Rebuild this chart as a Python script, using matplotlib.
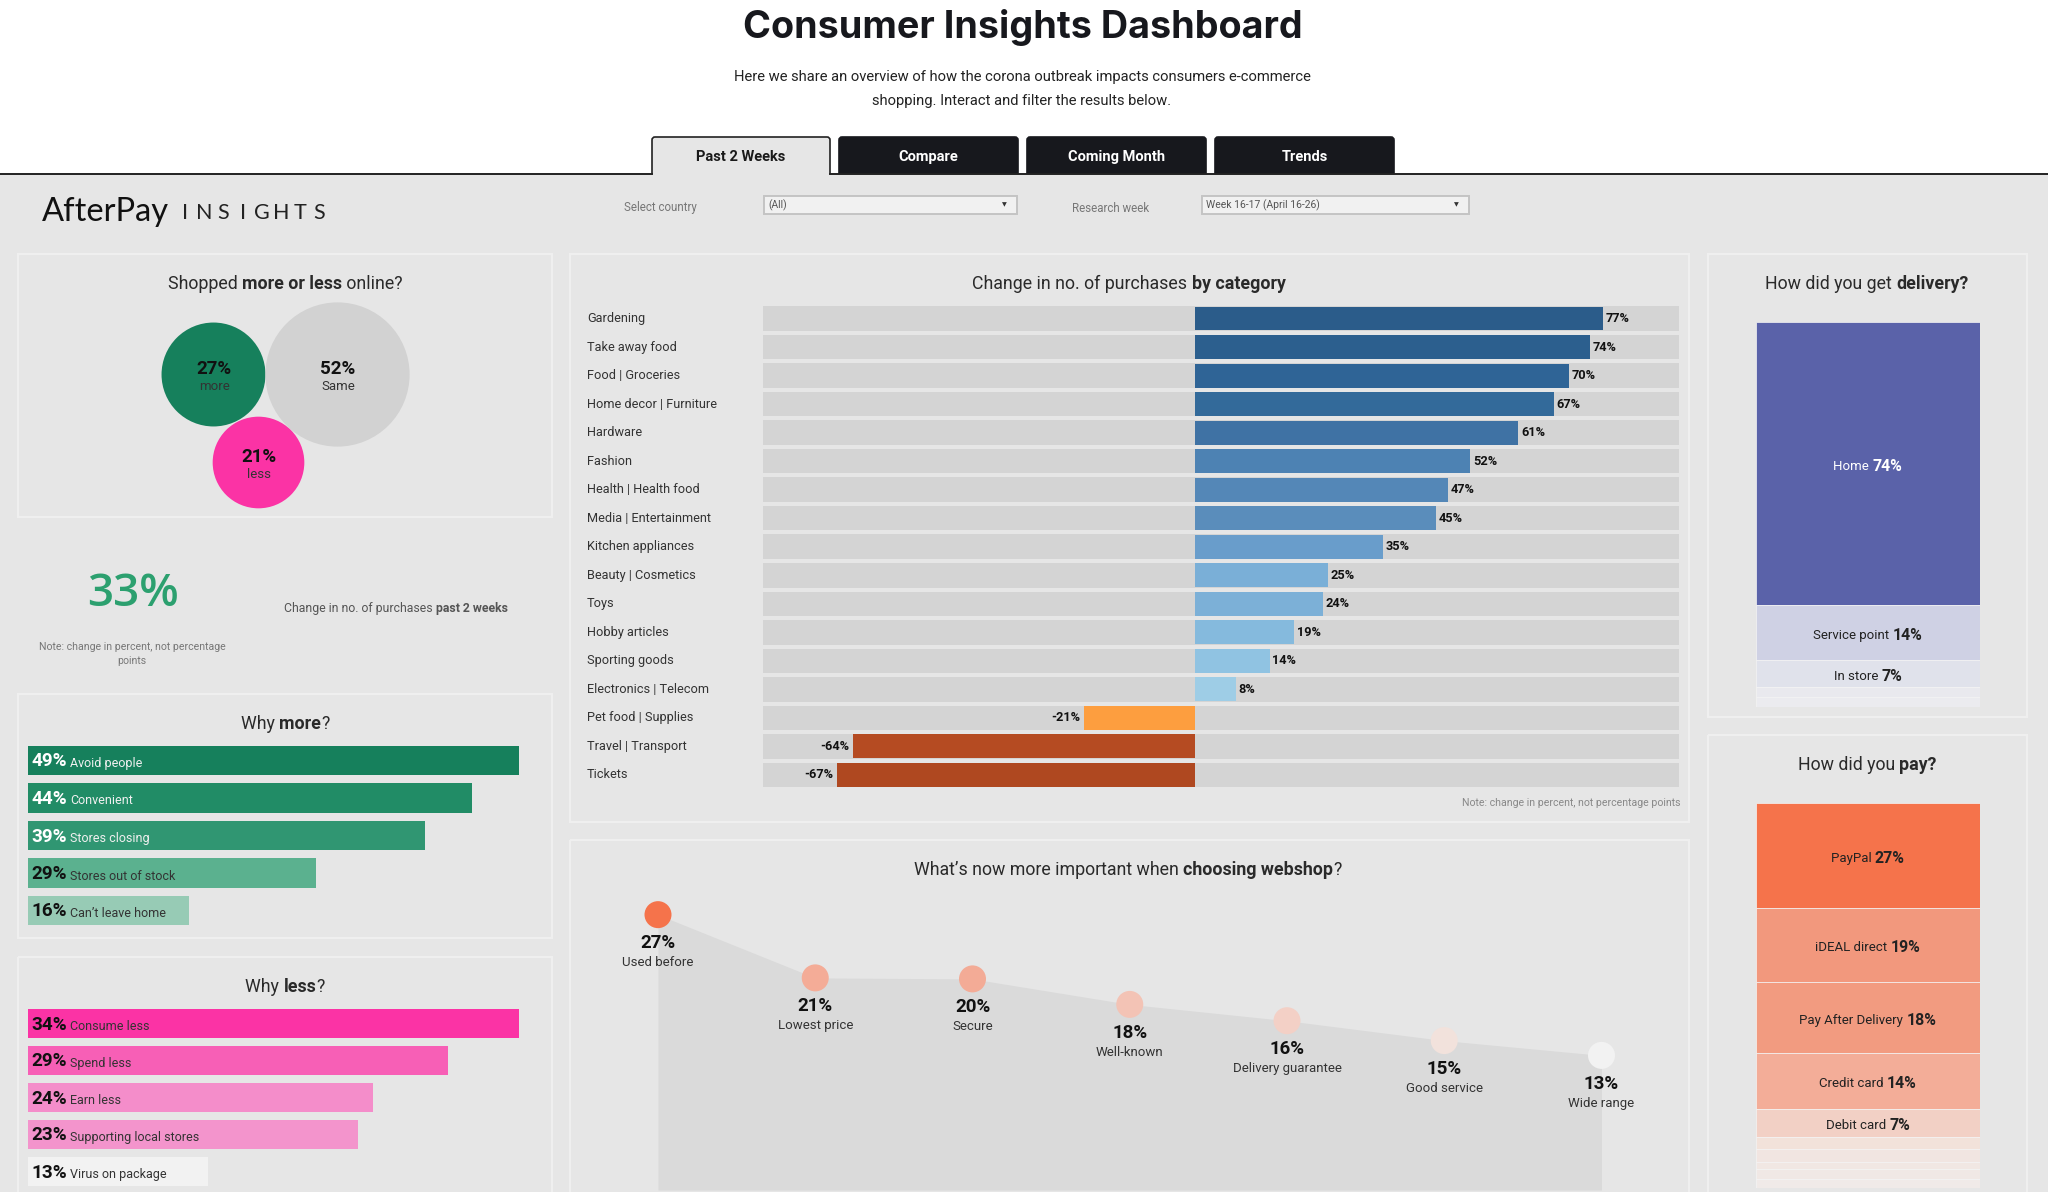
import numpy as np
import matplotlib

matplotlib.use("Agg")
import matplotlib.pyplot as plt
from matplotlib.patches import FancyBboxPatch, Rectangle

W, H = 2048, 1192
FONT = "Roboto"
BG = "#E6E6E6"
BORDER = "#EFEFEF"
INK = "#2A2A2A"

# --- data ---
categories = ["Gardening", "Take away food", "Food | Groceries", "Home decor | Furniture", "Hardware", "Fashion",
              "Health | Health food", "Media | Entertainment", "Kitchen appliances", "Beauty | Cosmetics", "Toys",
              "Hobby articles", "Sporting goods", "Electronics | Telecom", "Pet food | Supplies",
              "Travel | Transport", "Tickets"]
category_values = [77, 74.5, 70.6, 67.7, 61, 52, 47.7, 45.4, 35.4, 25.1, 24.1, 18.7, 14.1, 7.7, -20.9, -64.5, -67.5]
category_labels = ["77%", "74%", "70%", "67%", "61%", "52%", "47%", "45%", "35%", "25%", "24%", "19%", "14%", "8%",
                   "-21%", "-64%", "-67%"]
category_colors = ["#2B5C8A", "#2C5F8E", "#2F6496", "#336A9A", "#3F72A4", "#4D82B3", "#5487B7", "#5A8DBB", "#699DCB",
                   "#7AAFD7", "#7CB0D7", "#85BADD", "#90C3E2", "#9ECDE6", "#FD9E3F", "#B54B22", "#AF4820"]

bubble_values = [27, 52, 21]
bubble_labels = ["more", "Same", "less"]
bubble_colors = ["#16805C", "#D2D2D2", "#FB33A5"]

more_reasons = ["Avoid people", "Convenient", "Stores closing", "Stores out of stock", "Can’t leave home"]
more_values = [49, 44.4, 39.7, 28.8, 16.1]
more_labels = ["49%", "44%", "39%", "29%", "16%"]
more_colors = ["#16805C", "#218C66", "#309672", "#5BB18F", "#97CBB5"]

less_reasons = ["Consume less", "Spend less", "Earn less", "Supporting local stores", "Virus on package"]
less_values = [34, 29.1, 23.9, 22.9, 12.5]
less_labels = ["34%", "29%", "24%", "23%", "13%"]
less_colors = ["#FB33A5", "#F75FB6", "#F48DCA", "#F394CC", "#F2F2F2"]

webshop_reasons = ["Used before", "Lowest price", "Secure", "Well-known", "Delivery guarantee", "Good service",
                   "Wide range"]
webshop_values = [27, 20.8, 20.7, 18.2, 16.6, 14.65, 13.2]
webshop_labels = ["27%", "21%", "20%", "18%", "16%", "15%", "13%"]
webshop_colors = ["#F5734B", "#F4AC97", "#F3AB96", "#F3C3B5", "#F3D0C6", "#F2E2DC", "#F2F2F2"]

delivery_names = ["Home", "Service point", "In store", "", ""]
delivery_values = [74, 14.3, 7, 2.6, 2.6]
delivery_labels = ["74%", "14%", "7%", "", ""]
delivery_colors = ["#5A62A9", "#CFD1E4", "#E0E2EB", "#E9E9EE", "#EBEBEF"]

pay_names = ["PayPal", "iDEAL direct", "Pay After Delivery", "Credit card", "Debit card", "", "", "", "", ""]
pay_values = [27, 19, 18.4, 14.4, 7.2, 3.1, 3.3, 1.9, 2.6, 2.2]
pay_labels = ["27%", "19%", "18%", "14%", "7%", "", "", "", "", ""]
pay_colors = ["#F5734B", "#F2987D", "#F29B80", "#F3AD98", "#F2D0C5", "#F2E2DA", "#F1E5E1", "#F1E7E3", "#F0E8E5",
              "#F0EAE8"]

fig = plt.figure(figsize=(W / 100, H / 100), dpi=100, facecolor="white")
plt.rcParams["font.family"] = [FONT, "DejaVu Sans"]

page = fig.add_axes([0, 0, 1, 1], xlim=(0, W), ylim=(H, 0))
page.axis("off")
page.set_zorder(0)
# second sheet above the charts, all loose text goes here
overlay = fig.add_axes([0, 0, 1, 1], xlim=(0, W), ylim=(H, 0))
overlay.axis("off")
overlay.patch.set_visible(False)
overlay.set_zorder(10)
renderer = fig.canvas.get_renderer()


def chart_axes(x0, y0, x1, y1):
    # box given in page pixels, y measured from the top
    ax = fig.add_axes([x0 / W, 1 - y1 / H, (x1 - x0) / W, (y1 - y0) / H])
    ax.axis("off")
    ax.patch.set_visible(False)
    ax.set_zorder(5)
    return ax


def to_page(ax, x, y):
    px, py = ax.transData.transform((x, y))
    return px, H - py


def rich(x, y, parts, size, color=INK, bold_scale=1.0):
    # parts is a list of (text, bold); runs of text set side by side, centred on x
    items = []
    total = 0.0
    for text, bold in parts:
        t = overlay.text(0, y, text, fontsize=size * bold_scale if bold else size,
                         fontweight="bold" if bold else "normal", color=color, va="center_baseline", ha="left")
        width = t.get_window_extent(renderer).width
        items.append((t, width))
        total += width
    cur = x - total / 2
    for t, width in items:
        t.set_x(cur)
        cur += width


def panel(x0, y0, x1, y1):
    page.add_patch(Rectangle((x0, y0), x1 - x0, y1 - y0, fc="none", ec=BORDER, lw=1.6, zorder=2))


def tab(x0, x1, label, active=False):
    fc = BG if active else "#17181D"
    ec = "#222222" if active else "#17181D"
    page.add_patch(FancyBboxPatch((x0 + 3, 140), x1 - x0 - 6, 50, boxstyle="round,pad=3", fc=fc, ec=ec, lw=1.2,
                                  zorder=1))
    overlay.text((x0 + x1) / 2, 157, label, ha="center", va="center", fontsize=10.5, fontweight="bold",
                 color="#1A1A1A" if active else "white")


def dropdown(x0, x1, text):
    page.add_patch(Rectangle((x0, 196), x1 - x0, 18, fc="#F1F1F1", ec="#C4C4C4", lw=1.4, zorder=3))
    overlay.text(x0 + 4, 205.5, text, fontsize=7.5, color="#555555", va="center")
    overlay.text(x1 - 13, 204.5, "▼", fontsize=4.5, color="#333333", va="center", ha="center", family="DejaVu Sans")


def hbars(box, names, values, labels, colors, dark_from):
    ax = chart_axes(*box)
    ypos = np.arange(len(values))
    ax.barh(ypos, values, height=0.79, color=colors)
    ax.set_xlim(0, max(values))
    ax.set_ylim(len(values) - 0.5, -0.5)
    for i, (name, label) in enumerate(zip(names, labels)):
        px, py = to_page(ax, 0, i)
        col = "white" if i < dark_from else "#111111"
        sub = "#F0F0F0" if i < dark_from else "#333333"
        overlay.text(px + 3.5, py + 1, label, fontsize=13.6, fontweight="bold", color=col, va="center")
        overlay.text(px + 42, py + 3, name, fontsize=9, color=sub, va="center")


def stacked(box, names, values, labels, colors, text_colors):
    ax = chart_axes(*box)
    bottoms = np.concatenate([[0], np.cumsum(values)[:-1]])
    ax.bar(np.zeros(len(values)), values, bottom=bottoms, width=1, color=colors, edgecolor="#F4F4F4", linewidth=0.5)
    ax.set_xlim(-0.5, 0.5)
    ax.set_ylim(sum(values), 0)
    for name, label, value, low, col in zip(names, labels, values, bottoms, text_colors):
        if not name:
            continue
        px, py = to_page(ax, 0, low + value / 2)
        rich(px, py + 1.5, [(name + " ", False), (label, True)], 9.5, color=col, bold_scale=1.2)


# page furniture
page.add_patch(Rectangle((0, 174), W, H - 174, fc=BG, ec="none", zorder=0))
tab(652, 830, "Past 2 Weeks", active=True)
tab(839, 1018, "Compare")
tab(1027, 1206, "Coming Month")
tab(1215, 1394, "Trends")
page.add_patch(Rectangle((0, 174), W, H - 174, fc=BG, ec="none", zorder=1.5))
page.add_patch(Rectangle((653, 170), 176, 8, fc=BG, ec="none", zorder=1.6))
page.plot([0, 652], [173.5, 173.5], color="#222222", lw=1.4, zorder=3)
page.plot([830, W], [173.5, 173.5], color="#222222", lw=1.4, zorder=3)

overlay.text(1023, 27, "Consumer Insights Dashboard", ha="center", va="center", fontsize=27.2, fontweight="bold",
             color="#17181D", family="Inter")
overlay.text(1022, 76.5, "Here we share an overview of how the corona outbreak impacts consumers e-commerce",
             ha="center", va="center", fontsize=10.65, color="#222222")
overlay.text(1022, 100.5, "shopping. Interact and filter the results below.", ha="center", va="center",
             fontsize=10.65, color="#222222")

overlay.text(42, 212, "AfterPay", fontsize=23.5, color="#111111", va="center", ha="left", family="Lato")
for i, letter in enumerate("INSIGHTS"):
    overlay.text(185 + i * 19.2, 213, letter, fontsize=15.5, color="#222222", va="center", ha="center", family="Lato")

overlay.text(624, 208, "Select country", fontsize=8.3, color="#777777", va="center")
overlay.text(1072, 208, "Research week", fontsize=8.3, color="#777777", va="center")
dropdown(764, 1017, "(All)")
dropdown(1202, 1469, "Week 16-17 (April 16-26)")

panel(18, 254, 552, 517)
panel(570, 254, 1689, 822)
panel(570, 840, 1689, H + 10)
panel(1708, 254, 2027, 717)
panel(1708, 735, 2027, H + 10)
panel(18, 694, 552, 938)
panel(18, 957, 552, H + 10)

TITLE = 12.8
rich(285, 282, [("Shopped ", False), ("more or less", True), (" online?", False)], TITLE)
rich(1129, 282, [("Change in no. of purchases ", False), ("by category", True)], TITLE)
rich(1867, 282, [("How did you get ", False), ("delivery?", True)], TITLE)
rich(1867, 763, [("How did you ", False), ("pay?", True)], TITLE)
rich(285, 722, [("Why ", False), ("more", True), ("?", False)], TITLE)
rich(285, 985, [("Why ", False), ("less", True), ("?", False)], TITLE)
rich(1128, 868, [("What’s now more important when ", False), ("choosing webshop", True), ("?", False)], TITLE)

# packed bubbles, area follows the value
bubble_ax = chart_axes(18, 254, 552, 517)
bubble_ax.set_xlim(18, 552)
bubble_ax.set_ylim(517, 254)
bubble_centres = [(213, 373.5), (337, 373.5), (257.5, 461.5)]
for (cx, cy), value, name, color in zip(bubble_centres, bubble_values, bubble_labels, bubble_colors):
    bubble_ax.scatter([cx], [cy], s=207.36 * value, color=color, linewidths=0)
    overlay.text(cx + 1, cy - 5, f"{value}%", ha="center", va="center", fontsize=13.5, fontweight="bold",
                 color="#111111")
    overlay.text(cx + 1, cy + 13.5, name, ha="center", va="center", fontsize=9.5, color="#333333")

# headline number
overlay.text(133, 595, "33%", ha="center", va="center", fontsize=33, fontweight="semibold", color="#2CA06F",
             family="Open Sans")
overlay.text(132, 647, "Note: change in percent, not percentage", ha="center", va="center", fontsize=7.6,
             color="#777777")
overlay.text(132, 661, "points", ha="center", va="center", fontsize=7.6, color="#777777")
rich(396, 607, [("Change in no. of purchases ", False), ("past 2 weeks", True)], 8.8, color="#555555")

hbars((28, 741.75, 518.5, 929.25), more_reasons, more_values, more_labels, more_colors, 3)
hbars((28, 1005, 518.5, 1190), less_reasons, less_values, less_labels, less_colors, 0)

# diverging category bars
cat_ax = chart_axes(763, 304.25, 1678.5, 789.25)
ypos = np.arange(len(categories))
cat_ax.set_xlim(-81.5, 91.25)
cat_ax.set_ylim(len(categories) - 0.5, -0.5)
cat_ax.barh(ypos, [91.25 + 81.5] * len(categories), left=-81.5, height=0.86, color="#D4D4D4")
cat_ax.barh(ypos, category_values, height=0.84, color=category_colors)
for i, (name, value, label) in enumerate(zip(categories, category_values, category_labels)):
    overlay.text(587, to_page(cat_ax, 0, i)[1], name, fontsize=9.2, color="#333333", va="center")
    cat_ax.annotate(label, (value, i), xytext=(2 if value > 0 else -3, 0), textcoords="offset points",
                    ha="left" if value > 0 else "right", va="center", fontsize=9.2, fontweight="bold",
                    color="#111111")
overlay.text(1680, 803, "Note: change in percent, not percentage points", ha="right", va="center", fontsize=7.6,
             color="#888888")

# webshop area with points
web_ax = chart_axes(658, 881, 1601.5, 1190)
xpos = np.arange(len(webshop_values))
web_ax.set_xlim(0, len(webshop_values) - 1)
web_ax.set_ylim(0, 30.3)
web_ax.fill_between(xpos, webshop_values, 0, color="#DADADA", lw=0)
web_ax.scatter(xpos, webshop_values, s=378, c=webshop_colors, linewidths=0, clip_on=False, zorder=3)
for x, value, label, name in zip(xpos, webshop_values, webshop_labels, webshop_reasons):
    web_ax.annotate(label, (x, value), xytext=(0, -20.5), textcoords="offset points", ha="center", va="center",
                    fontsize=13.5, fontweight="bold", color="#111111", annotation_clip=False)
    web_ax.annotate(name, (x, value), xytext=(0, -34.5), textcoords="offset points", ha="center", va="center",
                    fontsize=9.5, color="#333333", annotation_clip=False)

delivery_text = ["white", "#222222", "#222222", "#222222", "#222222"]
stacked((1756, 321.6, 1979.7, 707), delivery_names, delivery_values, delivery_labels, delivery_colors, delivery_text)
stacked((1756, 803, 1979.7, 1187.7), pay_names, pay_values, pay_labels, pay_colors, ["#222222"] * len(pay_names))

fig.savefig("out.png", dpi=100)
